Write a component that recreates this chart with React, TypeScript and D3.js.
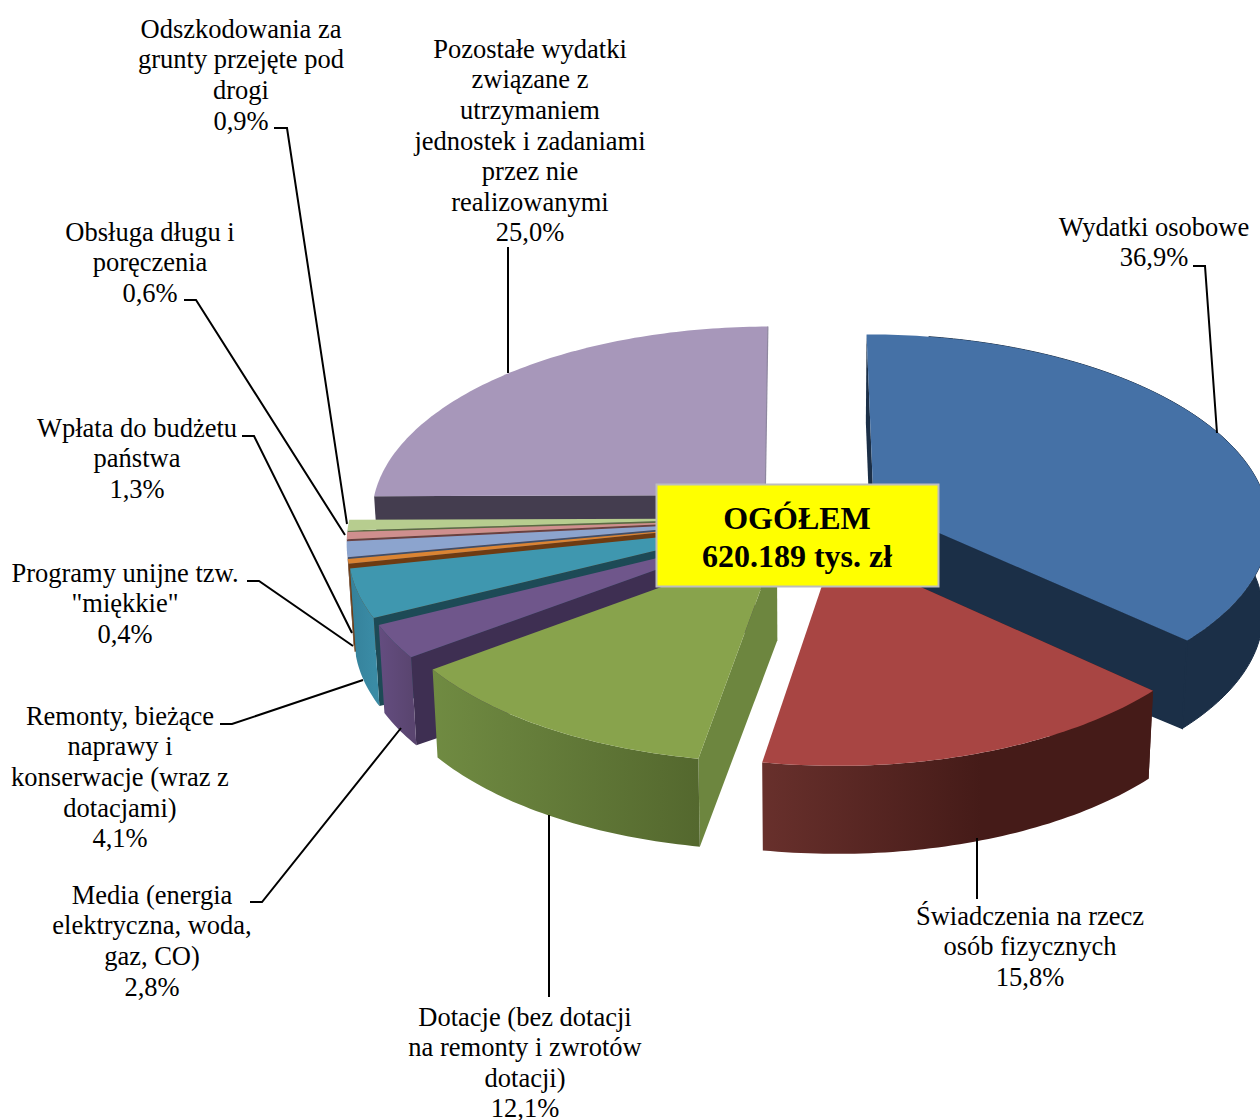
import React from "react";
import * as d3 from "d3";

const categories = [
  "Wydatki osobowe",
  "Świadczenia na rzecz osób fizycznych",
  "Dotacje (bez dotacji na remonty i zwrotów dotacji)",
  "Media (energia elektryczna, woda, gaz, CO)",
  "Remonty, bieżące naprawy i konserwacje (wraz z dotacjami)",
  "Programy unijne tzw. \"miękkie\"",
  "Wpłata do budżetu państwa",
  "Obsługa długu i poręczenia",
  "Odszkodowania za grunty przejęte pod drogi",
  "Pozostałe wydatki związane z utrzymaniem jednostek i zadaniami przez nie realizowanymi",
];
const shares = [36.9, 15.8, 12.1, 2.8, 4.1, 0.4, 1.3, 0.6, 0.9, 25.0];
const shareLabels = ["36,9%", "15,8%", "12,1%", "2,8%", "4,1%", "0,4%", "1,3%", "0,6%", "0,9%", "25,0%"];
const totalLines = ["OGÓŁEM", "620.189 tys. zł"];

const topColors = ["#4571a6", "#a84543", "#88a34c", "#6f568b", "#3f97af", "#db8433", "#8ca4ce", "#cf8f8e", "#b7cd8f", "#a797ba"];
const edgeColors = ["#1b2f47", "#471b18", "#6d863f", "#3e2f52", "#1d4a56", "#6e3b12", "#3f4e68", "#6a4040", "#5b6b42", "#443d4f"];
const rimStart = ["#1b2f47", "#68302c", "#708b42", "#644d80", "#35819a", "#a8642a", "#8ca4ce", "#cf8f8e", "#b7cd8f", "#443d4f"];
const rimEnd = ["#1b2f47", "#451b18", "#54682e", "#5a4570", "#3a8ba5", "#a8642a", "#8ca4ce", "#cf8f8e", "#b7cd8f", "#443d4f"];
const rimEndStop = [1, 0.56, 1, 1, 1, 1, 1, 1, 1, 1];
const drawOrder = [9, 8, 7, 6, 5, 4, 3, 0, 1, 2];

const labelLines = [
  ["Wydatki osobowe", "36,9%"],
  ["Świadczenia na rzecz", "osób fizycznych", "15,8%"],
  ["Dotacje (bez dotacji", "na remonty i zwrotów", "dotacji)", "12,1%"],
  ["Media (energia", "elektryczna, woda,", "gaz, CO)", "2,8%"],
  ["Remonty, bieżące", "naprawy i", "konserwacje (wraz z", "dotacjami)", "4,1%"],
  ["Programy unijne tzw.", "\"miękkie\"", "0,4%"],
  ["Wpłata do budżetu", "państwa", "1,3%"],
  ["Obsługa długu i", "poręczenia", "0,6%"],
  ["Odszkodowania za", "grunty przejęte pod", "drogi", "0,9%"],
  ["Pozostałe wydatki", "związane z", "utrzymaniem", "jednostek i zadaniami", "przez nie", "realizowanymi", "25,0%"],
];
const labelAnchors: [number, number][] = [
  [1154, 235.7], [1030, 924.7], [525, 1025.5], [152, 903.7], [120, 724.7],
  [125, 581.7], [137, 436.7], [150, 240.7], [241, 37.7], [530, 57.7],
];
const leaders: [number, number][][] = [
  [[1193, 266], [1205, 266], [1217, 433]],
  [[977, 838], [977, 899]],
  [[549, 815], [549, 997]],
  [[250, 902], [262, 902], [401, 728]],
  [[220, 724], [232, 724], [363, 680]],
  [[247, 581], [259, 581], [353, 646]],
  [[242, 436], [254, 436], [352, 633]],
  [[184, 300], [196, 300], [345, 535]],
  [[274, 128], [287, 128], [347, 524]],
  [[508, 247], [508, 373]],
];

const W = 1260, H = 1120;
const CX = 812.5, CY = 517.5;
const EXPLODE = 0.17;
const RX = 395.5, RY = 189.4, PERSP = 0.0988;
const DEPTH = 88, APEX_DEPTH = 95, TILT = 0.987;
const ROTATION = -0.0045;

type P = [number, number];

const pieGen = d3
  .pie<number>()
  .sort(null)
  .value((d) => d)
  .startAngle(ROTATION)
  .endAngle(2 * Math.PI + ROTATION);
const slices = pieGen(shares);
const line = d3.line<P>().x((d) => d[0]).y((d) => d[1]);
const degSteps = (a0: number, a1: number): number[] => {
  const n = Math.max(2, Math.ceil(((a1 - a0) * 180) / Math.PI));
  return d3.range(n + 1).map((i) => a0 + ((a1 - a0) * i) / n);
};

function project(X: number, Z: number): P {
  const f = 1 / (1 - PERSP * Z);
  return [CX + RX * X * f, CY + RY * Z * f];
}

function geometry(i: number) {
  const { startAngle: a0, endAngle: a1 } = slices[i];
  const mid = (a0 + a1) / 2;
  const ox = EXPLODE * Math.sin(mid), oz = -EXPLODE * Math.cos(mid);
  const apex = project(ox, oz);
  const rim = (a: number): P => project(ox + Math.sin(a), oz - Math.cos(a));
  const drop = (p: P, d: number): P => [CX + (p[0] - CX) * TILT, p[1] + d];
  const arc = degSteps(a0, a1).map(rim);
  const apexLow = drop(apex, APEX_DEPTH);
  const arcLow = arc.map((p) => drop(p, DEPTH));
  return { a0, a1, apex, arc, apexLow, arcLow };
}

export default function App() {
  const sliceNodes = drawOrder.map((i) => {
    const g = geometry(i);
    const deg1 = (g.a1 * 180) / Math.PI;
    const first = g.arc[0], last = g.arc[g.arc.length - 1];
    const firstLow = g.arcLow[0], lastLow = g.arcLow[g.arcLow.length - 1];
    const xs = g.arc.map((p) => p[0]);
    const showRim = deg1 <= 260;
    const showEndEdge = i === 0;
    const startPath = (line([g.apex, first, firstLow, g.apexLow]) as string) + "Z";
    const endPath = (line([g.apex, last, lastLow, g.apexLow]) as string) + "Z";
    return (
      <g key={categories[i]}>
        <defs>
          <linearGradient id={`rim${i}`} gradientUnits="userSpaceOnUse" x1={d3.min(xs)} x2={d3.max(xs)} y1={0} y2={0}>
            <stop offset="0" stopColor={rimStart[i]} />
            <stop offset={rimEndStop[i]} stopColor={rimEnd[i]} />
          </linearGradient>
        </defs>
        <path d={startPath} fill={edgeColors[i]} />
        {showRim && (
          <path
            d={(line([...g.arc.slice(i === 0 ? 10 : 0), ...[...g.arcLow.slice(i === 0 ? 10 : 0)].reverse()]) as string) + "Z"}
            fill={`url(#rim${i})`}
            stroke={i === 0 ? edgeColors[i] : "none"}
            strokeWidth={1}
          />
        )}
        {showEndEdge && <path d={endPath} fill={edgeColors[i]} stroke={edgeColors[i]} strokeWidth={1.5} />}
        <path d={(line([g.apex, ...g.arc]) as string) + "Z"} fill={topColors[i]} />
        {i === 9 && <path d={line([g.apex, last]) as string} fill="none" stroke="#8e879f" strokeWidth={1.2} />}
      </g>
    );
  });

  return (
    <svg width={W} height={H} viewBox={`0 0 ${W} ${H}`} style={{ position: "absolute", left: 0, top: 0, display: "block", background: "#fff" }}>
      {sliceNodes}
      <rect x={656.5} y={484.5} width={282} height={102} fill="#ffff00" stroke="#bdbdbd" strokeWidth={2} />
      <g fontFamily="'Liberation Serif', serif" fontWeight="bold" fontSize={32} textAnchor="middle" fill="#000">
        {totalLines.map((t, k) => (
          <text key={t} x={797} y={529 + k * 38}>{t}</text>
        ))}
      </g>
      <g fill="none" stroke="#000" strokeWidth={2}>
        {leaders.map((l, i) => (
          <path key={i} d={line(l) as string} />
        ))}
      </g>
      <g fontFamily="'Liberation Serif', serif" fontSize={26.5} textAnchor="middle" fill="#000">
        {labelLines.map((lines, i) => (
          <text key={categories[i]} aria-label={`${categories[i]} ${shareLabels[i]}`}>
            {lines.map((t, k) => (
              <tspan key={k} x={labelAnchors[i][0]} y={labelAnchors[i][1] + k * 30.6}>{t}</tspan>
            ))}
          </text>
        ))}
      </g>
    </svg>
  );
}
